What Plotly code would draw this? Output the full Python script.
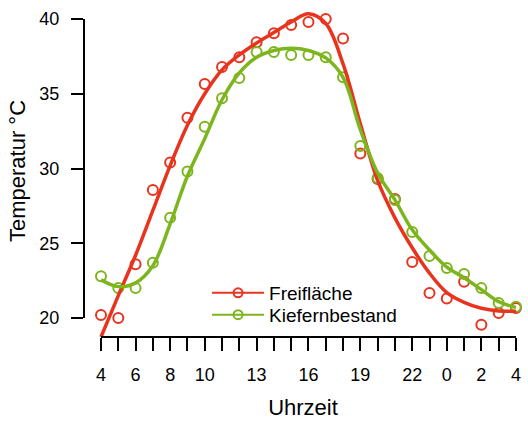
import plotly.graph_objects as go

# hour index 0..24 corresponds to 4:00 .. 4:00 next day
hours = list(range(25))
tick_labels = ["4", "", "6", "", "8", "", "10", "", "", "13", "", "", "16", "", "", "19",
               "", "", "22", "", "0", "", "2", "", "4"]

# measured points
frei_pts = [20.2, 20.0, 23.6, 28.56, 30.4, 33.4, 35.65, 36.8, 37.45, 38.45, 39.05, 39.6,
            39.8, 40.0, 38.7, 31.0, 29.3, 27.96, 23.75, 21.67, 21.3, 22.43, 19.55, 20.33, 20.67]
kief_pts = [22.8, 22.0, 22.0, 23.7, 26.7, 29.8, 32.8, 34.7, 36.05, 37.8, 37.8, 37.6,
            37.6, 37.45, 36.1, 31.5, 29.36, 27.9, 25.75, 24.15, 23.35, 22.95, 22.0, 21.0, 20.75]

# smoothed curves
frei_fit = [18.73, 21.5, 24.2, 27.2, 30.2, 32.9, 35.0, 36.6, 37.6, 38.4, 39.1, 39.8,
            40.35, 39.7, 37.0, 33.0, 29.2, 26.7, 24.7, 23.0, 21.7, 21.05, 20.65, 20.47, 20.45]
kief_fit = [22.55, 22.1, 22.35, 23.5, 26.3, 29.5, 32.0, 34.6, 36.4, 37.45, 37.9, 38.05,
            37.9, 37.4, 36.1, 32.6, 29.7, 27.9, 25.9, 24.55, 23.4, 22.7, 21.9, 21.1, 20.7]

names = ["Freifläche", "Kiefernbestand"]
RED = "#E8341E"
GREEN = "#7DB51E"
FONT = "Liberation Sans, Arial, sans-serif"

fig = go.Figure()
for pts, col in [(frei_pts, RED), (kief_pts, GREEN)]:
    fig.add_trace(go.Scatter(x=hours, y=pts, mode="markers", showlegend=False,
                             marker=dict(symbol="circle-open", size=10, color=col,
                                         line=dict(width=2, color=col))))
for fit, col in [(frei_fit, RED), (kief_fit, GREEN)]:
    fig.add_trace(go.Scatter(x=hours, y=fit, mode="lines", showlegend=False,
                             line=dict(color=col, width=3.5, shape="spline", smoothing=1)))
for name, col, lg in zip(names, [RED, GREEN], ["legend", "legend2"]):
    fig.add_trace(go.Scatter(x=[None], y=[None], mode="lines+markers", name=name, legend=lg,
                             line=dict(color=col, width=2),
                             marker=dict(symbol="circle-open", size=9, color=col,
                                         line=dict(width=2, color=col))))

leg_common = dict(xanchor="left", yanchor="top", bgcolor="rgba(0,0,0,0)",
                  font=dict(size=19), itemwidth=52)
fig.update_layout(
    width=528, height=422,
    margin=dict(l=84, r=6, t=5, b=85),
    paper_bgcolor="white", plot_bgcolor="white",
    font=dict(family=FONT, size=18, color="black"),
    showlegend=True,
    legend=dict(x=0.281, y=0.19, **leg_common),
    legend2=dict(x=0.281, y=0.124, **leg_common),
    xaxis=dict(range=[-0.983, 24.35], tickmode="array", tickvals=hours, ticktext=tick_labels,
               ticks="outside", ticklen=13, tickwidth=2, tickcolor="black",
               showgrid=False, zeroline=False, showline=False, ticklabelstandoff=8,
               title=dict(text="Uhrzeit", standoff=16)),
    yaxis=dict(range=[18.73, 40.94], tickvals=[20, 25, 30, 35, 40],
               ticks="outside", ticklen=12, tickwidth=2, tickcolor="black",
               showgrid=False, zeroline=False, showline=False, ticklabelstandoff=8,
               title=dict(text="Temperatur °C", standoff=7)),
    shapes=[
        dict(type="line", xref="paper", yref="y", x0=0, x1=0, y0=20, y1=40,
             line=dict(color="black", width=2)),
        dict(type="line", xref="x", yref="paper", x0=0, x1=24, y0=0, y1=0,
             line=dict(color="black", width=2)),
    ],
)
fig.write_html("out.html")
